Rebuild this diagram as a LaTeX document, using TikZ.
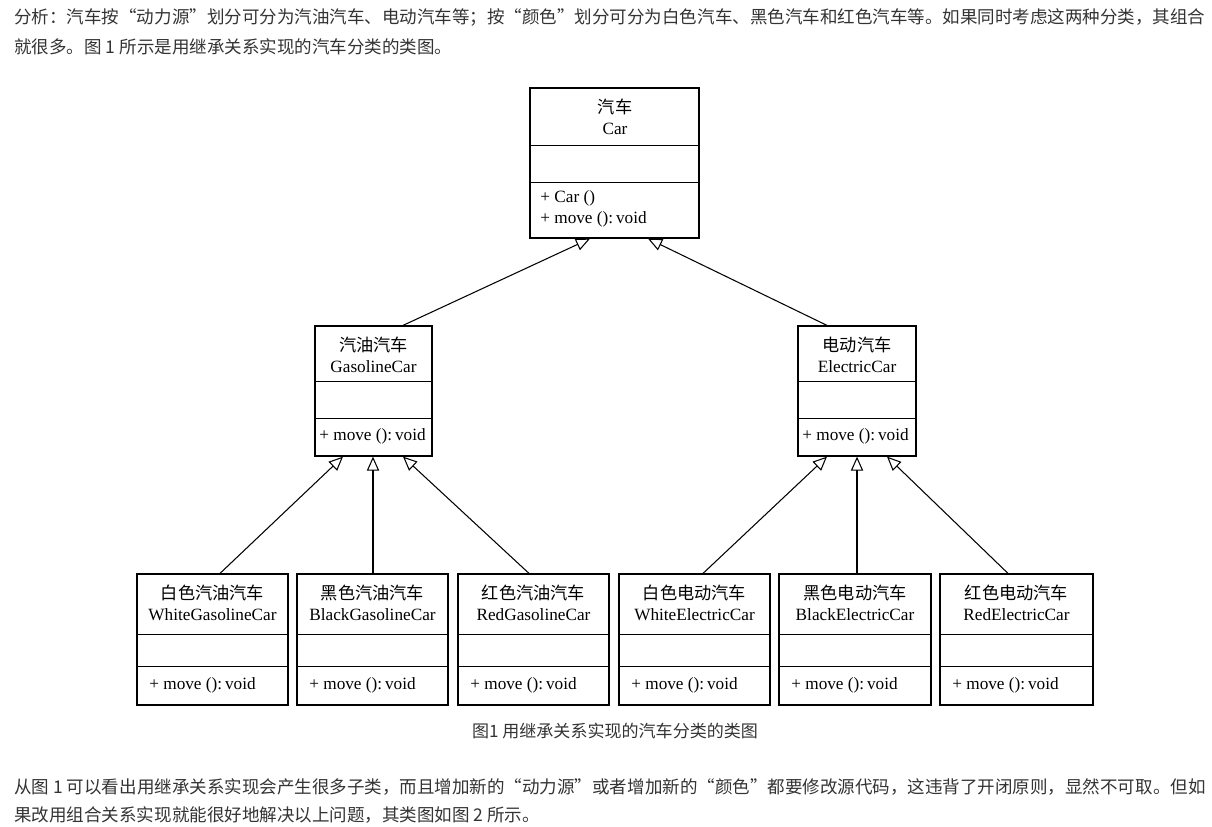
\documentclass[tikz,border=0pt]{standalone}
\usepackage{fontspec}
\setmainfont{Liberation Serif}
\newfontfamily\cjk{Noto Sans CJK SC}
\usetikzlibrary{arrows.meta,fit}

\definecolor{txt}{HTML}{333333}

\tikzset{
  clsbox/.style={draw, line width=0.7pt, inner sep=0pt},
  gen/.style={line width=0.6pt, -{Triangle[open, length=8pt, width=7pt]}},
  cname/.style={align=center, inner sep=0pt, font=\fontsize{9.8}{12}\selectfont},
  cop/.style={anchor=west, inner sep=0pt, font=\fontsize{9.8}{12}\selectfont},
  para/.style={anchor=west, inner sep=0pt, text=txt, font=\cjk\fontsize{9.97}{12}\selectfont},
}

\begin{document}
\begin{tikzpicture}[x=0.02cm, y=-0.02cm]
    \useasboundingbox (0,0) rectangle (1212,826);

    % text above and below the diagram
    \node[para] (p1a) at (14,17) {分析：汽车按“动力源”划分可分为汽油汽车、电动汽车等；按“颜色”划分可分为白色汽车、黑色汽车和红色汽车等。如果同时考虑这两种分类，其组合};
    \node[para] (p1b) at (14,47) {就很多。图 1 所示是用继承关系实现的汽车分类的类图。};
    \node[para, anchor=center, font=\cjk\fontsize{9.7}{12}\selectfont] (cap) at (615,731) {图1 用继承关系实现的汽车分类的类图};
    \node[para] (p2a) at (14,787) {从图 1 可以看出用继承关系实现会产生很多子类，而且增加新的“动力源”或者增加新的“颜色”都要修改源代码，这违背了开闭原则，显然不可取。但如};
    \node[para] (p2b) at (14,815) {果改用组合关系实现就能很好地解决以上问题，其类图如图 2 所示。};

    % base class
    \node[clsbox, fit={(530,88) (699,238)}] (car) {};
    \draw (car.west |- 0,145) -- (car.east |- 0,145);
    \draw (car.west |- 0,182) -- (car.east |- 0,182);
    \node[cname] (car-t) at (615,116.5) {{\cjk 汽车}\\Car};
    \node[cop, align=left] (car-op) at (540,208.5) {+ Car ()\\+ move ():\,void};

    % middle level
    \foreach \nm/\xl/\xr/\zh/\en in {gas/315/432/汽油汽车/GasolineCar, elec/798/916/电动汽车/ElectricCar}
    {
        \node[clsbox, fit={(\xl,326) (\xr,456)}] (\nm) {};
        \draw (\nm.west |- 0,381) -- (\nm.east |- 0,381);
        \draw (\nm.west |- 0,418) -- (\nm.east |- 0,418);
        \node[cname] (\nm-t) at ({(\xl+\xr)/2},354.5) {{\cjk\zh}\\\en};
        \node[cop] (\nm-op) at (\xl+4,436) {+ move ():\,void};
    }

    % leaf classes
    \foreach \nm/\xl/\xr/\zh/\en in {wgas/137/288/白色汽油汽车/WhiteGasolineCar,
        bgas/297/448/黑色汽油汽车/BlackGasolineCar, rgas/458/609/红色汽油汽车/RedGasolineCar,
        welec/619/770/白色电动汽车/WhiteElectricCar, belec/779/931/黑色电动汽车/BlackElectricCar,
        relec/940/1093/红色电动汽车/RedElectricCar}
    {
        \node[clsbox, fit={(\xl,574) (\xr,705)}] (\nm) {};
        \draw (\nm.west |- 0,634) -- (\nm.east |- 0,634);
        \draw (\nm.west |- 0,666) -- (\nm.east |- 0,666);
        \node[cname] (\nm-t) at ({(\xl+\xr)/2},603) {{\cjk\zh}\\\en};
        \node[cop] (\nm-op) at (\xl+12,685) {+ move ():\,void};
    }

    % generalisation arrows
    \draw[gen] (gas.north -| 403,0) -- (car.south -| 590,0);
    \draw[gen] (elec.north -| 827,0) -- (car.south -| 648,0);
    \foreach \c/\p/\sx/\tx in {wgas/gas/220/343, bgas/gas/373/373, rgas/gas/529/403,
        welec/elec/703/827, belec/elec/857/857, relec/elec/1008/887}
        \draw[gen] (\c.north -| \sx,0) -- (\p.south -| \tx,0);

\end{tikzpicture}
\end{document}
